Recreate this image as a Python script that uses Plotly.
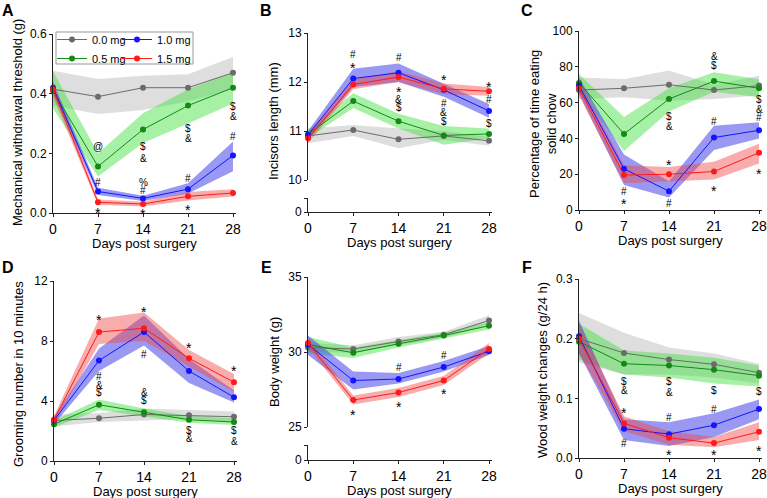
import plotly.graph_objects as go

W, H = 767, 498
FONT = "Liberation Sans, Arial, sans-serif"

days = [0, 7, 14, 21, 28]
groups = ["0.0 mg", "0.5 mg", "1.0 mg", "1.5 mg"]
line_colors = {"0.0 mg": "#6b6b6b", "0.5 mg": "#138a13", "1.0 mg": "#1414ff", "1.5 mg": "#ff1a1a"}
band_colors = {"0.0 mg": "rgba(190,190,190,0.5)", "0.5 mg": "rgba(60,225,60,0.45)",
               "1.0 mg": "rgba(70,70,235,0.55)", "1.5 mg": "rgba(240,70,70,0.45)"}

# A - mechanical withdrawal threshold (g)
a_mean = {"0.0 mg": [0.415, 0.39, 0.42, 0.42, 0.47], "0.5 mg": [0.41, 0.156, 0.28, 0.36, 0.42],
          "1.0 mg": [0.42, 0.072, 0.049, 0.08, 0.193], "1.5 mg": [0.415, 0.036, 0.03, 0.056, 0.067]}
a_hi = {"0.0 mg": [0.477, 0.449, 0.46, 0.465, 0.523], "0.5 mg": [0.475, 0.2, 0.334, 0.415, 0.47],
        "1.0 mg": [0.44, 0.085, 0.058, 0.1, 0.24], "1.5 mg": [0.44, 0.045, 0.038, 0.07, 0.08]}
a_lo = {"0.0 mg": [0.36, 0.332, 0.345, 0.375, 0.415], "0.5 mg": [0.35, 0.122, 0.235, 0.3, 0.367],
        "1.0 mg": [0.40, 0.06, 0.04, 0.065, 0.14], "1.5 mg": [0.39, 0.028, 0.022, 0.042, 0.055]}
a_marks = [(7, 0.223, "@"), (7, 0.102, "#"), (7, 0.013, "*"),
           (14, 0.222, "$"), (14, 0.184, "&"), (14, 0.102, "%"), (14, 0.076, "#"), (14, 0.009, "*"),
           (21, 0.284, "$"), (21, 0.25, "&"), (21, 0.117, "#"), (21, 0.022, "*"),
           (28, 0.356, "$"), (28, 0.323, "&"), (28, 0.256, "#")]

# B - incisors length (mm)
b_mean = {"0.0 mg": [10.9, 11.02, 10.83, 10.9, 10.8], "0.5 mg": [10.93, 11.61, 11.2, 10.91, 10.94],
          "1.0 mg": [10.92, 12.07, 12.19, 11.84, 11.41], "1.5 mg": [10.85, 11.95, 12.1, 11.86, 11.81]}
b_hi = {"0.0 mg": [11.05, 11.12, 11.05, 11.0, 10.88], "0.5 mg": [11.02, 11.77, 11.35, 11.1, 11.05],
        "1.0 mg": [11.0, 12.27, 12.38, 11.97, 11.55], "1.5 mg": [10.95, 12.05, 12.22, 11.97, 11.9]}
b_lo = {"0.0 mg": [10.75, 10.9, 10.65, 10.82, 10.7], "0.5 mg": [10.85, 11.47, 11.05, 10.72, 10.85],
        "1.0 mg": [10.82, 11.9, 12.0, 11.7, 11.27], "1.5 mg": [10.76, 11.85, 12.0, 11.75, 11.72]}
b_marks = [(7, 12.57, "#"), (7, 12.37, "*"),
           (14, 12.51, "#"), (14, 11.88, "*"), (14, 11.65, "&"), (14, 11.47, "$"),
           (21, 12.13, "*"), (21, 11.57, "#"), (21, 11.38, "&"), (21, 11.2, "$"),
           (28, 11.97, "*"), (28, 11.64, "#"), (28, 11.16, "$")]

# C - percentage of time eating solid chow
c_mean = {"0.0 mg": [67, 68, 70, 67, 69.5], "0.5 mg": [71, 42.5, 62, 72, 68],
          "1.0 mg": [69.5, 23, 10.5, 40.5, 44.5], "1.5 mg": [68, 19.5, 20, 21.5, 32]}
c_hi = {"0.0 mg": [74, 73, 78, 70, 75], "0.5 mg": [76, 52, 68, 77, 73],
        "1.0 mg": [74, 31, 16, 47, 49], "1.5 mg": [72, 25, 24, 27, 37]}
c_lo = {"0.0 mg": [62, 63, 61, 62, 64], "0.5 mg": [66, 33, 55, 66, 63],
        "1.0 mg": [65, 14, 7, 33.5, 40], "1.5 mg": [64, 15, 16, 17, 26]}
c_marks = [(7, 10.6, "#"), (7, 5.6, "*"),
           (14, 52.2, "$"), (14, 46.6, "&"), (14, 27.4, "*"), (14, 3.7, "#"),
           (21, 85.8, "&"), (21, 80.6, "$"), (21, 49.4, "#"), (21, 12.7, "*"),
           (28, 61.9, "$"), (28, 56.3, "&"), (28, 51.5, "#"), (28, 22.4, "*")]

# D - grooming number in 10 minutes
d_mean = {"0.0 mg": [2.7, 2.85, 3.1, 3.05, 2.95], "0.5 mg": [2.45, 3.75, 3.25, 2.75, 2.6],
          "1.0 mg": [2.7, 6.7, 8.6, 6.0, 4.25], "1.5 mg": [2.75, 8.6, 8.85, 6.85, 5.25]}
d_hi = {"0.0 mg": [3.1, 3.2, 3.5, 3.4, 3.3], "0.5 mg": [2.7, 4.1, 3.5, 3.0, 2.85],
        "1.0 mg": [2.95, 7.5, 9.7, 6.8, 4.7], "1.5 mg": [3.0, 9.5, 9.9, 7.4, 5.8]}
d_lo = {"0.0 mg": [2.3, 2.6, 2.7, 2.8, 2.6], "0.5 mg": [2.25, 3.4, 3.0, 2.55, 2.4],
        "1.0 mg": [2.45, 6.0, 7.7, 5.2, 3.9], "1.5 mg": [2.5, 7.8, 8.0, 6.3, 4.6]}
d_marks = [(7, 9.68, "*"), (7, 5.61, "#"), (7, 5.05, "&"), (7, 4.54, "$"),
           (14, 10.17, "*"), (14, 7.1, "#"), (14, 4.6, "&"), (14, 4.05, "$"),
           (21, 7.79, "*"), (21, 2.05, "$"), (21, 1.49, "&"),
           (28, 6.28, "*"), (28, 2.05, "$"), (28, 1.31, "&")]

# E - body weight (g)
e_mean = {"0.0 mg": [30.3, 30.2, 30.7, 31.15, 32.1], "0.5 mg": [30.5, 29.95, 30.55, 31.1, 31.75],
          "1.0 mg": [30.5, 28.1, 28.2, 29.0, 30.05], "1.5 mg": [30.6, 26.8, 27.3, 28.1, 30.2]}
e_hi = {"0.0 mg": [30.6, 30.45, 31.0, 31.35, 32.45], "0.5 mg": [31.0, 30.3, 30.8, 31.3, 32.0],
        "1.0 mg": [31.1, 28.7, 28.6, 29.4, 30.4], "1.5 mg": [30.9, 27.1, 27.6, 28.4, 30.6]}
e_lo = {"0.0 mg": [30.0, 29.95, 30.45, 30.95, 31.8], "0.5 mg": [29.9, 29.6, 30.3, 30.9, 31.5],
        "1.0 mg": [29.8, 27.5, 27.9, 28.7, 29.8], "1.5 mg": [30.3, 26.5, 27.0, 27.8, 29.9]}
e_marks = [(7, 26.1, "*"), (14, 28.97, "#"), (14, 26.6, "*"),
           (21, 29.75, "#"), (21, 27.44, "*"), (28.65, 30.59, "*"), (28.65, 29.68, "#")]

# F - wood weight changes (g/24 h)
f_mean = {"0.0 mg": [0.2, 0.176, 0.165, 0.157, 0.143], "0.5 mg": [0.195, 0.158, 0.155, 0.148, 0.138],
          "1.0 mg": [0.204, 0.049, 0.04, 0.055, 0.082], "1.5 mg": [0.2, 0.058, 0.034, 0.025, 0.044]}
f_hi = {"0.0 mg": [0.243, 0.21, 0.185, 0.175, 0.158], "0.5 mg": [0.225, 0.18, 0.175, 0.168, 0.155],
        "1.0 mg": [0.23, 0.065, 0.06, 0.075, 0.098], "1.5 mg": [0.225, 0.07, 0.045, 0.035, 0.06]}
f_lo = {"0.0 mg": [0.16, 0.14, 0.14, 0.135, 0.125], "0.5 mg": [0.165, 0.14, 0.135, 0.125, 0.12],
        "1.0 mg": [0.175, 0.03, 0.02, 0.035, 0.065], "1.5 mg": [0.175, 0.045, 0.022, 0.018, 0.03]}
f_marks = [(7, 0.129, "$"), (7, 0.113, "&"), (7, 0.082, "*"), (7, 0.024, "#"),
           (14, 0.128, "$"), (14, 0.11, "&"), (14, 0.068, "#"), (14, 0.012, "*"),
           (21, 0.113, "$"), (21, 0.082, "#"), (21, 0.011, "*"),
           (28, 0.111, "$"), (28, 0.019, "*")]


def px(x):
    return x / W


def py(y):
    return 1 - y / H


fig = go.Figure()
annotations = []
axis_line = dict(showline=True, linecolor="#222", linewidth=1, showgrid=False, zeroline=False,
                 ticks="outside", ticklen=3, tickcolor="#222", automargin=False)

panels = [
    # letter, x0 px, x28 px, ytop px, ybot px, yrange, dtick, tickformat, data, marks, ytitle, title x, title y, broken
    ("A", 53, 233, 34, 213, [0, 0.6], 0.2, ".1f", (a_mean, a_hi, a_lo), a_marks,
     "Mechanical withdrawal threshold (g)", 18, 123, None),
    ("B", 308, 489, 33, 180, [10, 13], 1, "d", (b_mean, b_hi, b_lo), b_marks,
     "Incisors length (mm)", 273, 121, (198, 212)),
    ("C", 579, 759, 31, 210, [0, 100], 20, "d", (c_mean, c_hi, c_lo), c_marks,
     "Percentage of time eating<br>solid chow", 543, 124, None),
    ("D", 54, 234, 281, 461, [0, 12], 4, "d", (d_mean, d_hi, d_lo), d_marks,
     "Grooming number in 10 minutes", 18, 374, None),
    ("E", 308, 489, 277, 427, [25, 35], 5, "d", (e_mean, e_hi, e_lo), e_marks,
     "Body weight (g)", 274, 362, (445, 460)),
    ("F", 579, 759, 279, 458, [0, 0.3], 0.1, ".1f", (f_mean, f_hi, f_lo), f_marks,
     "Wood weight changes (g/24 h)", 542, 370, None),
]
letter_pos = {"A": (0, 0), "B": (258, 0), "C": (519, 0), "D": (0, 257), "E": (259, 257), "F": (520, 257)}

extra_y = 7
layout_axes = {}
for i, (letter, x0, x28, yt, yb, yr, dt, tf, (mean, hi, lo), marks, ytitle, tx, ty, broken) in enumerate(panels, 1):
    xs = "" if i == 1 else str(i)
    xmax = 28.4
    xdom = [px(x0), px(x0 + (x28 - x0) * xmax / 28)]
    x_anchor = "y" + xs
    xbottom = yb
    if broken:
        # short lower segment of the broken y axis, holding only the 0 tick
        by = str(extra_y)
        extra_y += 1
        layout_axes["yaxis" + by] = dict(axis_line, domain=[py(broken[1]), py(broken[0])], range=[0, 1],
                                         tickvals=[0, 1], ticktext=["0", ""], anchor="x" + xs,
                                         tickfont=dict(size=12))
        fig.add_trace(go.Scatter(x=[], y=[], showlegend=False, hoverinfo="skip",
                                 xaxis="x" + xs, yaxis="y" + by))
        x_anchor = "y" + by
        xbottom = broken[1]
    layout_axes["xaxis" + xs] = dict(axis_line, domain=xdom, range=[0, xmax], anchor=x_anchor,
                                     tickvals=days, tickfont=dict(size=14))
    layout_axes["yaxis" + xs] = dict(axis_line, domain=[py(yb), py(yt)], range=yr, dtick=dt,
                                     tickformat=tf, anchor="x" + xs, tickfont=dict(size=12))

    for g in groups:
        fig.add_trace(go.Scatter(x=days + days[::-1], y=hi[g] + lo[g][::-1], fill="toself",
                                 fillcolor=band_colors[g], line=dict(width=0), mode="lines",
                                 hoverinfo="skip", showlegend=False, xaxis="x" + xs, yaxis="y" + xs))
    for g in groups:
        fig.add_trace(go.Scatter(x=days, y=mean[g], name=g, mode="lines+markers",
                                 line=dict(color=line_colors[g], width=1),
                                 marker=dict(color=line_colors[g], size=6),
                                 cliponaxis=False, xaxis="x" + xs, yaxis="y" + xs,
                                 showlegend=(i == 1),
                                 legend="legend" if g in ("0.0 mg", "0.5 mg") else "legend2"))
    for d, v, s in marks:
        annotations.append(dict(x=d, y=v, xref="x" + xs, yref="y" + xs, text=s, showarrow=False,
                                xanchor="center", yanchor="middle",
                                font=dict(size=14 if s == "*" else 10, color="black"),
                                yshift=-4 if s == "*" else 0))
    # axis titles
    annotations.append(dict(x=px(tx), y=py(ty), xref="paper", yref="paper", text=ytitle,
                            xanchor="center", yanchor="middle",
                            textangle=-90, showarrow=False, font=dict(size=13, color="black")))
    annotations.append(dict(x=(xdom[0] + xdom[1]) / 2, y=py(xbottom + 30), xref="paper",
                            yref="paper", text="Days post surgery", showarrow=False,
                            xanchor="center", yanchor="middle",
                            font=dict(size=13, color="black")))
    lx, ly = letter_pos[letter]
    annotations.append(dict(x=px(lx), y=py(ly), xref="paper", yref="paper", text="<b>" + letter + "</b>",
                            xanchor="left", yanchor="top", showarrow=False,
                            font=dict(size=16, color="black")))

legend_style = dict(font=dict(size=11, color="black"), bgcolor="rgba(0,0,0,0)", borderwidth=0,
                    itemwidth=30, xanchor="left", yanchor="top", tracegroupgap=0)
fig.update_layout(
    width=W, height=H, margin=dict(l=0, r=0, t=0, b=0),
    paper_bgcolor="white", plot_bgcolor="rgba(0,0,0,0)",
    font=dict(family=FONT, color="black"),
    annotations=annotations,
    legend=dict(legend_style, x=px(52), y=py(25)),
    legend2=dict(legend_style, x=px(117), y=py(25)),
    shapes=[dict(type="rect", xref="paper", yref="paper", x0=px(56), x1=px(193), y0=py(64), y1=py(32),
                 line=dict(color="#999", width=1))],
    **layout_axes,
)

fig.write_html("out.html", config={"displayModeBar": False},
               post_script="document.body.style.margin = '0px';")
